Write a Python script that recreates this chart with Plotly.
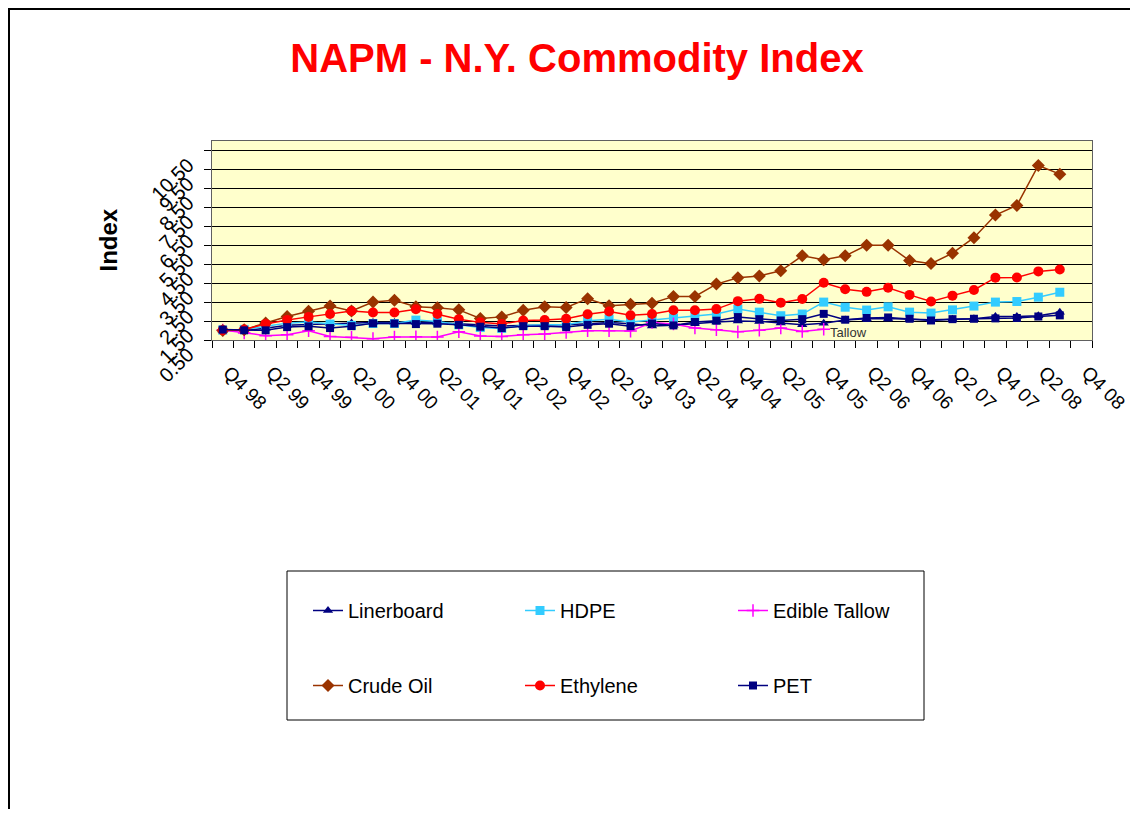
import plotly.graph_objects as go

categories = ["Q4 98", "Q1 99", "Q2 99", "Q3 99", "Q4 99", "Q1 00", "Q2 00", "Q3 00", "Q4 00",
              "Q1 01", "Q2 01", "Q3 01", "Q4 01", "Q1 02", "Q2 02", "Q3 02", "Q4 02",
              "Q1 03", "Q2 03", "Q3 03", "Q4 03", "Q1 04", "Q2 04", "Q3 04", "Q4 04",
              "Q1 05", "Q2 05", "Q3 05", "Q4 05", "Q1 06", "Q2 06", "Q3 06", "Q4 06",
              "Q1 07", "Q2 07", "Q3 07", "Q4 07", "Q1 08", "Q2 08", "Q3 08", "Q4 08"]

linerboard = [1.0, 1.0, 1.12, 1.28, 1.32, 1.36, 1.4, 1.42, 1.42, 1.42,
              1.42, 1.36, 1.3, 1.24, 1.26, 1.28, 1.3, 1.36, 1.42, 1.36,
              1.24, 1.28, 1.38, 1.45, 1.5, 1.48, 1.4, 1.3, 1.38, 1.56,
              1.62, 1.64, 1.6, 1.57, 1.6, 1.62, 1.74, 1.74, 1.78, 1.97, None]
hdpe = [1.02, 1.06, 1.22, 1.39, 1.45, 1.34, 1.27, 1.37, 1.37, 1.55,
        1.48, 1.3, 1.16, 1.11, 1.27, 1.3, 1.3, 1.52, 1.6, 1.45,
        1.56, 1.66, 1.76, 1.87, 2.13, 1.97, 1.78, 1.87, 2.5, 2.23,
        2.08, 2.25, 1.97, 1.92, 2.09, 2.29, 2.5, 2.53, 2.76, 3.02, None]
edible_tallow = [1.03, 0.87, 0.73, 0.78, 0.99, 0.69, 0.64, 0.57, 0.66, 0.67,
                 0.66, 0.94, 0.71, 0.69, 0.78, 0.81, 0.9, 0.99, 0.99, 0.97,
                 1.42, 1.35, 1.13, 1.04, 0.93, 1.02, 1.13, 0.95, 1.07, None,
                 None, None, None, None, None, None, None, None, None, None, None]
crude_oil = [1.0, 1.04, 1.4, 1.74, 2.02, 2.29, 2.03, 2.5, 2.6, 2.26,
             2.2, 2.09, 1.64, 1.72, 2.07, 2.25, 2.22, 2.68, 2.31, 2.39,
             2.44, 2.8, 2.8, 3.45, 3.78, 3.88, 4.15, 4.94, 4.73, 4.94,
             5.5, 5.5, 4.69, 4.53, 5.08, 5.9, 7.09, 7.6, 9.71, 9.25, None]
ethylene = [1.02, 1.05, 1.35, 1.56, 1.72, 1.87, 2.03, 1.95, 1.95, 2.12,
            1.87, 1.6, 1.43, 1.35, 1.53, 1.55, 1.62, 1.86, 2.0, 1.8,
            1.87, 2.07, 2.07, 2.13, 2.55, 2.67, 2.47, 2.66, 3.52, 3.18,
            3.04, 3.26, 2.88, 2.53, 2.84, 3.14, 3.79, 3.8, 4.12, 4.22, None]
pet = [1.05, 1.01, 1.01, 1.18, 1.22, 1.13, 1.23, 1.38, 1.37, 1.34,
       1.36, 1.3, 1.2, 1.13, 1.23, 1.23, 1.18, 1.3, 1.36, 1.23,
       1.37, 1.27, 1.45, 1.52, 1.71, 1.6, 1.53, 1.6, 1.88, 1.57,
       1.66, 1.69, 1.62, 1.53, 1.6, 1.62, 1.64, 1.66, 1.74, 1.8, None]

y_ticks = [0.5, 1.5, 2.5, 3.5, 4.5, 5.5, 6.5, 7.5, 8.5, 9.5, 10.5]
y_ticktext = ["0.50", "1.50", "2.50", "3.50", "4.50", "5.50", "6.50", "7.50", "8.50", "9.50", "10.50"]
x_ticktext = [c if i % 2 == 0 else "" for i, c in enumerate(categories)]

FONT = "Arial, Liberation Sans, sans-serif"

series = [
    ("Linerboard", linerboard, "#000080", "triangle-up", 9, "legend"),
    ("HDPE", hdpe, "#33CCFF", "square", 9, "legend2"),
    ("Edible Tallow", edible_tallow, "#FF00FF", "cross-thin", 9, "legend3"),
    ("Crude Oil", crude_oil, "#993300", "diamond", 10, "legend"),
    ("Ethylene", ethylene, "#FF0000", "circle", 10, "legend2"),
    ("PET", pet, "#000080", "square", 8, "legend3"),
]

fig = go.Figure()
for name, vals, color, sym, size, leg in series:
    marker = dict(symbol=sym, size=size, color=color)
    if sym == "cross-thin":
        marker["line"] = dict(color=color, width=1.5)
    fig.add_trace(go.Scatter(
        x=categories, y=vals, name=name, mode="lines+markers",
        line=dict(color=color, width=1.5), marker=marker,
        legend=leg, legendgroup=name,
    ))

# the page body adds an 8px margin on every side; keep the figure inside the
# window so no scrollbars appear. Positions below are screen pixels.
OFF = 8
W, H = 1138 - 2 * OFF, 817 - 2 * OFF
L, T = 212 - OFF, 141 - OFF
R = W - (1092 - OFF)
B = H - (340 - OFF)
pw, ph = W - L - R, H - T - B


def px(x):
    return (x - OFF - L) / pw


def py(y):
    return (H - B - (y - OFF)) / ph


legend_common = dict(
    bgcolor="rgba(0,0,0,0)", borderwidth=0, orientation="v",
    font=dict(family=FONT, size=20, color="#000000"),
    tracegroupgap=46, yanchor="top", xanchor="left", y=py(591),
)

fig.update_layout(
    width=W, height=H,
    margin=dict(l=L, r=R, t=T, b=B, autoexpand=False),
    paper_bgcolor="#FFFFFF", plot_bgcolor="#FFFFCC",
    title=dict(text="NAPM - N.Y. Commodity Index", x=(577 - OFF) / W, xanchor="center",
               y=1 - (58 - OFF) / H, yanchor="middle",
               font=dict(family=FONT, size=40, color="#FF0000", weight="bold")),
    xaxis=dict(type="category", categoryorder="array", categoryarray=categories,
               range=[-0.5, len(categories) - 0.5], automargin=False,
               tickmode="array", tickvals=categories, ticktext=x_ticktext,
               tickson="boundaries", ticks="outside", ticklen=7, tickcolor="#000000",
               tickangle=45, tickfont=dict(family=FONT, size=19, color="#000000"),
               showgrid=False, showline=True, linecolor="#606060", linewidth=1, mirror=True,
               zeroline=False, ticklabelstandoff=13, ticklabelshift=6),
    yaxis=dict(range=[0.5, 11.0], automargin=False,
               tickmode="array", tickvals=y_ticks, ticktext=y_ticktext,
               ticks="outside", ticklen=7, tickcolor="#000000",
               tickangle=-45, tickfont=dict(family=FONT, size=20, color="#000000"),
               showgrid=True, gridcolor="#000000", gridwidth=1,
               showline=True, linecolor="#606060", linewidth=1, mirror=True, zeroline=False,
               ticklabelstandoff=12, ticklabelshift=12),
    legend=dict(x=px(308), **legend_common),
    legend2=dict(x=px(520), **legend_common),
    legend3=dict(x=px(733), **legend_common),
    showlegend=True,
    annotations=[
        dict(text="Index", x=px(108), y=0.5, xref="paper", yref="paper", showarrow=False,
             textangle=-90, xanchor="center", yanchor="middle",
             font=dict(family=FONT, size=24, color="#000000", weight="bold")),
        dict(text="Tallow", x=categories[28], y=edible_tallow[28], xref="x", yref="y",
             showarrow=False, xanchor="left", yanchor="middle", xshift=4, yshift=-3,
             font=dict(family=FONT, size=13, color="#333333")),
    ],
    shapes=[
        dict(type="rect", xref="paper", yref="paper", x0=px(287), x1=px(924), y0=py(720), y1=py(571),
             line=dict(color="#000000", width=1), fillcolor="rgba(0,0,0,0)", layer="above"),
        dict(type="rect", xref="paper", yref="paper", x0=px(9), x1=px(1170), y0=py(860), y1=py(9),
             line=dict(color="#000000", width=2), fillcolor="rgba(0,0,0,0)", layer="above"),
    ],
)

fig.write_html("out.html")
